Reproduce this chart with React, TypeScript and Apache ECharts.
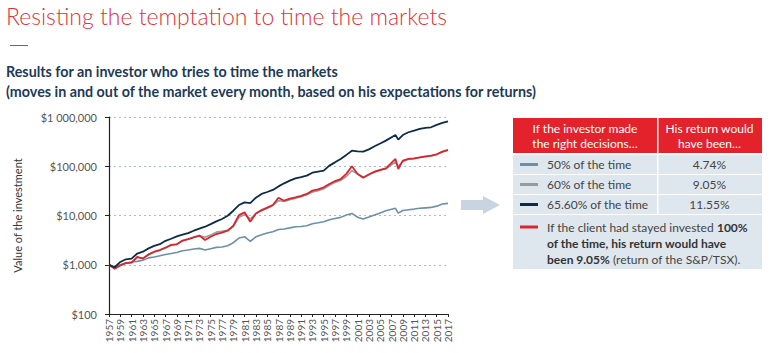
import React, { useEffect, useRef } from "react";
import * as echarts from "echarts";

const years = [
  1957, 1958, 1959, 1960, 1961, 1962, 1963, 1964, 1965, 1966,
  1967, 1968, 1969, 1970, 1971, 1972, 1973, 1974, 1975, 1976,
  1977, 1978, 1979, 1980, 1981, 1982, 1983, 1984, 1985, 1986,
  1987, 1988, 1989, 1990, 1991, 1992, 1993, 1994, 1995, 1996,
  1997, 1998, 1999, 2000, 2001, 2002, 2003, 2004, 2005, 2006,
  2007.7, 2008.2,
  2009, 2010, 2011, 2012, 2013, 2014, 2015, 2016, 2017,
];

// 65.60% of the time (navy)
const navyValues = [
  1000, 890, 1140, 1290, 1330, 1690, 1840, 2150, 2410, 2610,
  3060, 3370, 3770, 4070, 4400, 4910, 5400, 5920, 6700, 7590,
  8500, 9900, 12500, 16300, 18500, 17900, 23000, 27400, 30000, 33000,
  39000, 45000, 51000, 56700, 60000, 64400, 74000, 78000, 81400, 103000,
  120000, 141000, 170000, 207000, 200000, 198000, 220000, 254000, 290000, 331000,
  432000, 347000,
  430000, 490000, 530000, 573000, 600000, 618000, 690000, 758000, 818000,
];

// 100% invested (red)
const redValues = [
  1000, 830, 970, 1080, 1100, 1440, 1330, 1620, 1840, 1990,
  2220, 2530, 2600, 3100, 3300, 3600, 3900, 3170, 3700, 4200,
  4500, 4910, 6200, 10200, 11600, 7480, 11000, 12900, 14500, 16300,
  23000, 20000, 22000, 23300, 25000, 27400, 32000, 34000, 37300, 43600,
  50000, 55000, 70000, 99700, 69700, 58600, 68000, 77600, 84000, 90700,
  141000, 88000,
  130000, 141000, 145000, 152000, 158000, 164000, 175000, 198000, 214000,
];

// 60% of the time (gray)
const grayValues = [
  1000, 850, 980, 1080, 1110, 1400, 1360, 1600, 1820, 1970,
  2200, 2500, 2600, 3050, 3300, 3600, 3900, 3600, 4000, 4600,
  4800, 5000, 6000, 9200, 10500, 8500, 11000, 12500, 14000, 16000,
  20000, 19500, 21000, 22500, 24000, 26500, 30000, 32000, 35000, 41000,
  47000, 52000, 62000, 81000, 70000, 60000, 68000, 76000, 83000, 89000,
  122000, 100000,
  125000, 138000, 143000, 150000, 156000, 162000, 173000, 195000, 212000,
];

// 50% of the time (light blue)
const blueValues = [
  1000, 900, 1000, 1080, 1140, 1170, 1230, 1380, 1440, 1520,
  1620, 1690, 1780, 1930, 2000, 2090, 2150, 1990, 2120, 2250,
  2300, 2430, 2800, 3490, 3710, 2980, 3700, 4070, 4400, 4690,
  5200, 5320, 5600, 5920, 6000, 6200, 6800, 7100, 7480, 8220,
  8700, 9160, 10200, 11000, 9200, 8490, 9300, 10200, 11300, 12500,
  14000, 11200,
  12600, 13100, 13500, 14000, 14300, 14600, 15500, 17100, 17600,
];

const yTickValues = [100, 1000, 10000, 100000, 1000000];
const yTickLabels = ["$100", "$1,000", "$10,000", "$100,000", "$1 000,000"];

const tableHeader = ["If the investor made\nthe right decisions…", "His return would\nhave been…"];
const tableRowLabels = ["50% of the time", "60% of the time", "65.60% of the time"];
const tableRowReturns = ["4.74%", "9.05%", "11.55%"];

const COLORS = {
  navy: "#0d2b48",
  red: "#d9252d",
  gray: "#9a9a9a",
  blue: "#6b90a9",
};
const rowColors = [COLORS.blue, COLORS.gray, COLORS.navy];

const FONT = "Lato, 'Open Sans', sans-serif";

function pairs(vals: number[]) {
  return years.map((y, i) => [y, vals[i]]);
}

export default function App() {
  const ref = useRef<HTMLDivElement>(null);
  useEffect(() => {
    if (!ref.current) return;
    const chart = echarts.init(ref.current, null, { renderer: "svg" });

    const tx0 = 513, tx1 = 762, tdiv = 657;
    const rows = [
      { y: 155, h: 19 },
      { y: 175, h: 19 },
      { y: 195, h: 19 },
    ];
    const graphic: any[] = [];
    graphic.push({
      type: "text", left: 6, top: 4,
      style: { text: "Resisting the temptation to time the markets", fill: "#e2323a", font: `300 23px ${FONT}` },
    });
    graphic.push({ type: "rect", shape: { x: 10, y: 45, width: 18, height: 1 }, style: { fill: "#e2323a" } });
    graphic.push({
      type: "text", left: 6, top: 64,
      style: { text: "Results for an investor who tries to time the markets", fill: "#1d3a57", font: `bold 14.3px ${FONT}` },
    });
    graphic.push({
      type: "text", left: 6, top: 84,
      style: { text: "(moves in and out of the market every month, based on his expectations for returns)", fill: "#1d3a57", font: `bold 14.3px ${FONT}` },
    });
    graphic.push({
      type: "polygon",
      shape: { points: [[461, 200], [483, 200], [483, 196], [500, 205], [483, 214], [483, 210], [461, 210]] },
      style: { fill: "#c8d5e0" },
    });
    graphic.push({ type: "rect", shape: { x: tx0, y: 118, width: tx1 - tx0, height: 35 }, style: { fill: "#e3222b" } });
    graphic.push({ type: "rect", shape: { x: tdiv, y: 118, width: 1.5, height: 35 }, style: { fill: "#ffffff" } });
    graphic.push({
      type: "text", x: (tx0 + tdiv) / 2, y: 136,
      style: { text: tableHeader[0], fill: "#fff", font: `12px ${FONT}`, align: "center", verticalAlign: "middle", lineHeight: 15 },
    });
    graphic.push({
      type: "text", x: (tdiv + tx1) / 2, y: 136,
      style: { text: tableHeader[1], fill: "#fff", font: `12px ${FONT}`, align: "center", verticalAlign: "middle", lineHeight: 15 },
    });
    rows.forEach((r, i) => {
      graphic.push({ type: "rect", shape: { x: tx0, y: r.y, width: tdiv - tx0, height: r.h }, style: { fill: "#dfe7ee" } });
      graphic.push({ type: "rect", shape: { x: tdiv + 1.5, y: r.y, width: tx1 - tdiv - 1.5, height: r.h }, style: { fill: "#dfe7ee" } });
      graphic.push({ type: "rect", shape: { x: 520, y: r.y + r.h / 2 - 1.5, width: 18, height: 3 }, style: { fill: rowColors[i] } });
      graphic.push({
        type: "text", x: 547, y: r.y + r.h / 2,
        style: { text: tableRowLabels[i], fill: "#444", font: `12px ${FONT}`, verticalAlign: "middle" },
      });
      graphic.push({
        type: "text", x: (tdiv + tx1) / 2, y: r.y + r.h / 2,
        style: { text: tableRowReturns[i], fill: "#444", font: `12px ${FONT}`, align: "center", verticalAlign: "middle" },
      });
    });
    graphic.push({ type: "rect", shape: { x: tx0, y: 215, width: tx1 - tx0, height: 54 }, style: { fill: "#dfe7ee" } });
    graphic.push({ type: "rect", shape: { x: 520, y: 225.5, width: 18, height: 3 }, style: { fill: COLORS.red } });
    graphic.push({
      type: "text", x: 547, y: 219,
      style: {
        text: "{n|If the client had stayed invested }{b|100%}\n{b|of the time, his return would have}\n{b|been 9.05%}{n| (return of the S&P/TSX).}",
        rich: {
          n: { fill: "#444", font: `12px ${FONT}`, lineHeight: 16 },
          b: { fill: "#333", font: `bold 12px ${FONT}`, lineHeight: 16 },
        },
      },
    });

    const mkSeries = (name: string, vals: number[], color: string, width: number) => ({
      name, type: "line", data: pairs(vals), showSymbol: false, symbol: "none",
      lineStyle: { color, width }, itemStyle: { color }, z: 3,
    });

    chart.setOption({
      animation: false,
      grid: { left: 109, right: 325, top: 117, bottom: 39, containLabel: false },
      xAxis: {
        type: "value", min: 1957, max: 2017, interval: 2,
        axisLine: { show: true, lineStyle: { color: "#222", width: 1.2 } },
        axisTick: { show: true, length: 3, lineStyle: { color: "#222" } },
        axisLabel: { rotate: 90, fontSize: 10, color: "#555", fontFamily: FONT, margin: 5, formatter: (v: number) => String(v) },
        splitLine: { show: false },
      },
      yAxis: {
        type: "log", logBase: 10, min: 100, max: 1000000,
        name: "Value of the investment", nameLocation: "middle", nameGap: 86,
        nameTextStyle: { fontSize: 11, color: "#333", fontFamily: FONT },
        axisLine: { show: true, lineStyle: { color: "#222", width: 1.2 } },
        axisTick: { show: true, length: 4, lineStyle: { color: "#222" } },
        axisLabel: {
          fontSize: 11, color: "#555", fontFamily: FONT, margin: 12,
          formatter: (v: number) => {
            const i = yTickValues.findIndex((t) => Math.abs(t - v) / t < 1e-6);
            return i >= 0 ? yTickLabels[i] : "";
          },
        },
        splitLine: { show: true, lineStyle: { color: "#a9bccd", type: [2, 3], width: 1 } },
      },
      graphic,
      series: [
        mkSeries("50% of the time", blueValues, COLORS.blue, 1.6),
        mkSeries("60% of the time", grayValues, COLORS.gray, 1.6),
        mkSeries("100% invested", redValues, COLORS.red, 1.8),
        mkSeries("65.60% of the time", navyValues, COLORS.navy, 1.8),
      ],
    });
    return () => chart.dispose();
  }, []);
  return <div ref={ref} style={{ position: "fixed", left: 0, top: 0, width: 773, height: 353, background: "#fff" }} />;
}
